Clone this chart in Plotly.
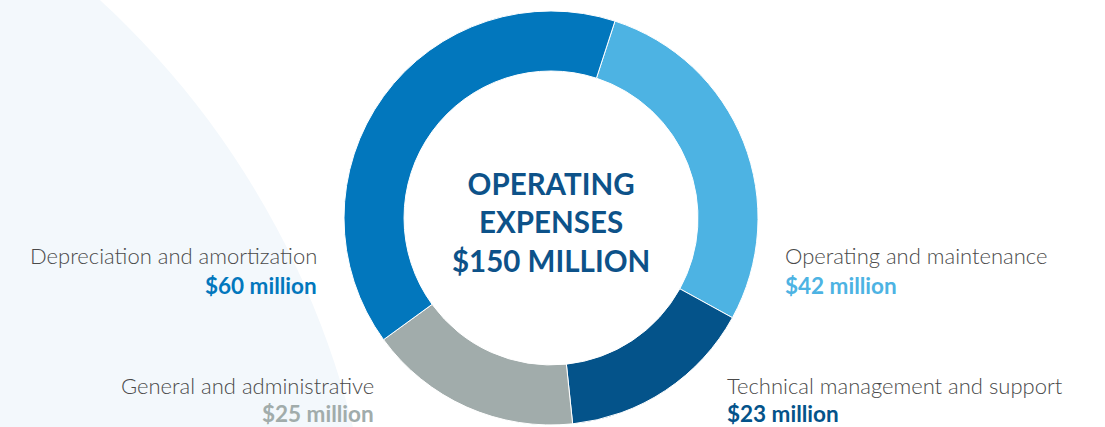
"""Operating expenses donut chart."""

import plotly.graph_objects as go

W, H = 1105, 427

# data (clockwise from the top)
categories = ["Operating and maintenance", "Technical management and support",
              "General and administrative", "Depreciation and amortization"]
values = [42, 23, 25, 60]
slice_colors = ["#4DB3E3", "#04538A", "#A1ACAB", "#0277BD"]
total_label = "OPERATING<br>EXPENSES<br>$150 MILLION"

TEXT = "#4A4A4A"
NAVY = "#0D5289"


def px(x, y):
    """pixel position -> paper coords"""
    return x / W, 1 - y / H


fig = go.Figure()
fig.add_trace(go.Pie(
    labels=categories, values=values,
    hole=0.71, sort=False, direction="clockwise", rotation=18,
    marker=dict(colors=slice_colors, line=dict(color="white", width=1)),
    textinfo="none", hoverinfo="label+value",
    domain=dict(x=[0.3113, 0.686], y=[0.0047, 0.9743]),
    showlegend=False,
))

# faint background arc on the left
cx, cy, r = -480.5, 632.4, 858.4
fig.add_shape(
    type="circle", xref="paper", yref="paper", layer="below",
    x0=(cx - r) / W, x1=(cx + r) / W,
    y0=1 - (cy + r) / H, y1=1 - (cy - r) / H,
    fillcolor="#F3F8FC", line=dict(width=0),
)

# label positions: (x, y of name line, y of value line, anchor)
label_pos = {
    "Depreciation and amortization": (319, 255, 285, "right"),
    "Operating and maintenance": (783, 255, 285, "left"),
    "General and administrative": (376, 385, 413, "right"),
    "Technical management and support": (725, 385, 413, "left"),
}
for name, val, col in zip(categories, values, slice_colors):
    lx, ly, vy, anchor = label_pos[name]
    x, y = px(lx, ly)
    fig.add_annotation(
        x=x, y=y, xref="paper", yref="paper", xanchor=anchor, yanchor="middle",
        text=name, showarrow=False,
        font=dict(family="Lato", size=22, color=TEXT, weight=300),
    )
    x, y = px(lx, vy)
    fig.add_annotation(
        x=x, y=y, xref="paper", yref="paper", xanchor=anchor, yanchor="middle",
        text=f"${val} million", showarrow=False,
        font=dict(family="Lato", size=22.5, color=col, weight="bold"),
    )

x, y = px(551, 222)
fig.add_annotation(
    x=x, y=y, xref="paper", yref="paper", xanchor="center", yanchor="middle",
    text=f"<b>{total_label}</b>", showarrow=False,
    font=dict(family="Lato", size=29.5, color=NAVY),
)

fig.update_layout(
    width=W, height=H,
    margin=dict(l=0, r=0, t=0, b=0),
    paper_bgcolor="white", plot_bgcolor="white",
)

# drop the page's default body margin so the figure sits at the top-left
fig.write_html("out.html", config={"displayModeBar": False},
               post_script="document.body.style.margin='0';")
